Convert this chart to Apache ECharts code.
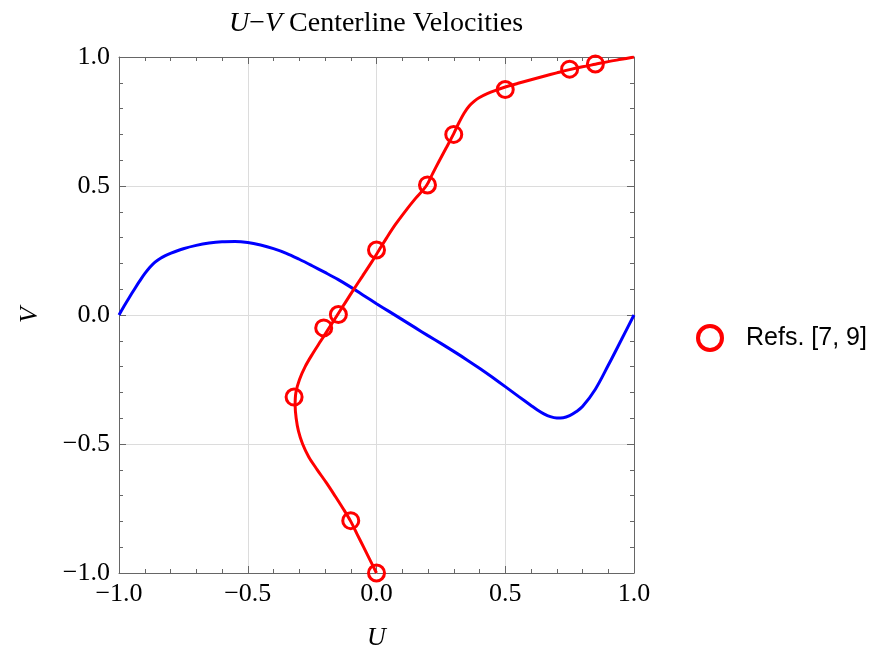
<!DOCTYPE html>
<html>
<head>
<meta charset="utf-8">
<script src="https://cdn.jsdelivr.net/npm/echarts@6/dist/echarts.min.js"></script>
<style>
  html, body { margin: 0; padding: 0; background: #fff; }
  #chart { width: 876px; height: 648px; }
</style>
</head>
<body>
<div id="chart"></div>
<script>
// Horizontal velocity U along the vertical centerline, as (U, y) pairs.
const uCenterline = [
  [0.0, -1.0], [-0.025, -0.95], [-0.050, -0.90], [-0.075, -0.85],
  [-0.100, -0.80], [-0.130, -0.75], [-0.162, -0.70], [-0.195, -0.65],
  [-0.230, -0.60], [-0.263, -0.55], [-0.287, -0.50], [-0.303, -0.45],
  [-0.312, -0.40], [-0.316, -0.35], [-0.313, -0.30], [-0.299, -0.25],
  [-0.277, -0.20], [-0.248, -0.15], [-0.216, -0.10], [-0.184, -0.05],
  [-0.152, 0.0], [-0.120, 0.05], [-0.088, 0.10], [-0.055, 0.15],
  [-0.022, 0.20], [0.009, 0.25], [0.040, 0.30], [0.073, 0.35],
  [0.110, 0.40], [0.150, 0.45], [0.193, 0.50], [0.219, 0.55],
  [0.245, 0.60], [0.272, 0.65], [0.30, 0.703], [0.32, 0.745],
  [0.34, 0.782], [0.36, 0.810], [0.38, 0.829], [0.40, 0.843],
  [0.43, 0.858], [0.46, 0.870], [0.50, 0.8835], [0.55, 0.898],
  [0.60, 0.912], [0.65, 0.9255], [0.70, 0.9385], [0.75, 0.951],
  [0.80, 0.962], [0.85, 0.972], [0.90, 0.982], [0.95, 0.991], [1.0, 1.0]
];

// Vertical velocity V along the horizontal centerline, as (x, V) pairs.
const vCenterline = [
  [-1.0, 0.0], [-0.98, 0.035], [-0.96, 0.068], [-0.94, 0.100],
  [-0.92, 0.131], [-0.90, 0.160], [-0.88, 0.185], [-0.86, 0.205],
  [-0.84, 0.219], [-0.82, 0.230], [-0.80, 0.239], [-0.75, 0.257],
  [-0.70, 0.270], [-0.65, 0.279], [-0.60, 0.284], [-0.55, 0.285],
  [-0.50, 0.281], [-0.45, 0.271], [-0.40, 0.257], [-0.35, 0.239],
  [-0.30, 0.216], [-0.25, 0.191], [-0.20, 0.165], [-0.15, 0.138],
  [-0.10, 0.108], [-0.05, 0.076], [0.0, 0.044], [0.05, 0.013],
  [0.10, -0.018], [0.15, -0.049], [0.20, -0.080], [0.25, -0.110],
  [0.30, -0.141], [0.35, -0.173], [0.40, -0.2065], [0.45, -0.2415],
  [0.50, -0.2775], [0.55, -0.3145], [0.60, -0.3505], [0.625, -0.368],
  [0.65, -0.383], [0.675, -0.394], [0.70, -0.399], [0.725, -0.398],
  [0.75, -0.390], [0.775, -0.375], [0.80, -0.355], [0.85, -0.2875],
  [0.90, -0.195], [0.95, -0.098], [1.0, 0.0]
];

// Reference data points, Refs. [7, 9]
const refU = [0.0, -0.10, -0.32, -0.205, -0.148, 0.0, 0.198, 0.30, 0.50, 0.75, 0.85];
const refY = [-1.0, -0.797, -0.318, -0.05, 0.002, 0.252, 0.504, 0.70, 0.874, 0.953, 0.973];

const axisMin = -1.0;
const axisMax = 1.0;
const majorStep = 0.5;

const refPoints = refU.map((u, i) => [u, refY[i]]);

const serif = '"Liberation Serif", "DejaVu Serif", serif';
const frameColor = '#666666';

function fmt(v) {
  return v.toFixed(1).replace('-', '\u2212');
}

function makeAxis(position, showLabel) {
  return {
    type: 'value',
    position: position,
    min: axisMin,
    max: axisMax,
    interval: majorStep,
    axisLine: { show: true, onZero: false, lineStyle: { color: frameColor, width: 1 } },
    axisTick: { show: true, inside: true, length: 7, lineStyle: { color: frameColor } },
    minorTick: { show: true, splitNumber: 5, length: 4, lineStyle: { color: frameColor } },
    splitLine: { show: showLabel, lineStyle: { color: '#dcdcdc', width: 1 } },
    axisLabel: {
      show: showLabel,
      formatter: fmt,
      fontFamily: serif,
      fontSize: 26,
      color: '#000'
    }
  };
}

const xBottom = makeAxis('bottom', true);
xBottom.axisLabel.margin = 8;
xBottom.name = 'U';
xBottom.nameLocation = 'middle';
xBottom.nameGap = 52;
xBottom.nameTextStyle = { fontFamily: serif, fontStyle: 'italic', fontSize: 26, color: '#000' };

const yLeft = makeAxis('left', true);
yLeft.axisLabel.margin = 9;
yLeft.name = 'V';
yLeft.nameLocation = 'middle';
yLeft.nameGap = 76;
yLeft.nameRotate = 90;
yLeft.nameTextStyle = { fontFamily: serif, fontStyle: 'italic', fontSize: 26, color: '#000' };

const chart = echarts.init(document.getElementById('chart'), null, { renderer: 'canvas' });

chart.setOption({
  backgroundColor: '#ffffff',
  animation: false,
  grid: {
    left: 119, right: 242, top: 57, bottom: 75,
    containLabel: false,
    outerBoundsMode: 'none'
  },
  xAxis: [xBottom, makeAxis('top', false)],
  yAxis: [yLeft, makeAxis('right', false)],
  graphic: [{
    type: 'text',
    x: 376,
    y: 24,
    style: {
      text: '{i|U}{n|\u2212}{i|V}{n| Centerline Velocities}',
      align: 'center',
      verticalAlign: 'middle',
      rich: {
        i: { fontFamily: serif, fontStyle: 'italic', fontSize: 28, fill: '#000' },
        n: { fontFamily: serif, fontSize: 28, fill: '#000' }
      }
    }
  }],
  legend: {
    data: [{ name: 'Refs. [7, 9]', icon: 'circle' }],
    left: 691,
    top: 319,
    orient: 'vertical',
    itemWidth: 24,
    itemHeight: 24,
    itemStyle: { color: 'rgba(0,0,0,0)', borderColor: '#ff0000', borderWidth: 4, opacity: 1 },
    textStyle: {
      fontFamily: '"Liberation Sans", Arial, sans-serif',
      fontSize: 25,
      color: '#000',
      padding: [0, 0, 0, 19]
    }
  },
  series: [
    {
      name: 'V',
      type: 'line',
      xAxisIndex: 0,
      yAxisIndex: 0,
      data: vCenterline,
      smooth: 0.35,
      showSymbol: false,
      lineStyle: { color: '#0000ff', width: 3 },
      z: 2
    },
    {
      name: 'U',
      type: 'line',
      xAxisIndex: 0,
      yAxisIndex: 0,
      data: uCenterline,
      smooth: 0.35,
      showSymbol: false,
      lineStyle: { color: '#ff0000', width: 3 },
      z: 3
    },
    {
      name: 'Refs. [7, 9]',
      type: 'scatter',
      xAxisIndex: 0,
      yAxisIndex: 0,
      data: refPoints,
      symbol: 'circle',
      symbolSize: 16,
      itemStyle: { color: 'rgba(0,0,0,0)', borderColor: '#ff0000', borderWidth: 3, opacity: 1 },
      z: 4
    }
  ]
});
</script>
</body>
</html>
